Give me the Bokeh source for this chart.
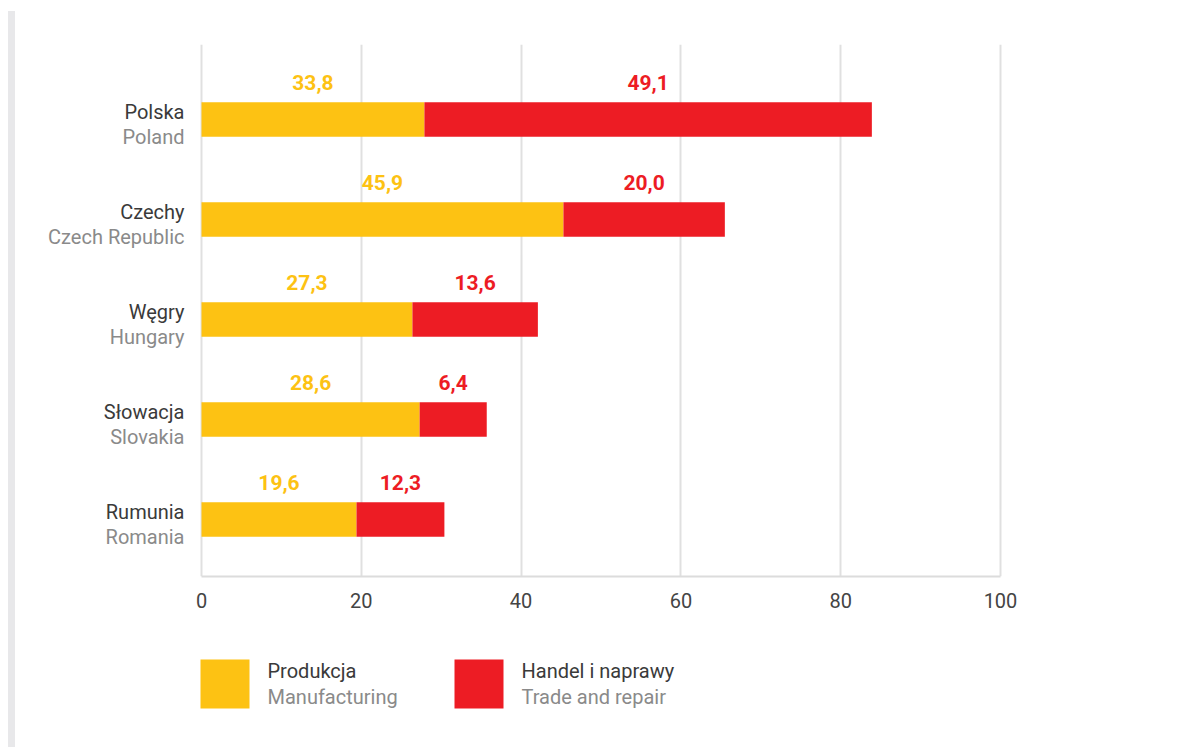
from bokeh.plotting import figure
from bokeh.models import Range1d, ColumnDataSource, FixedTicker, Div
from bokeh.layouts import row, column
from bokeh.core.properties import value
from bokeh.embed import file_html
from bokeh.resources import INLINE

# ---- data ----
countries_pl = ["Polska", "Czechy", "Węgry", "Słowacja", "Rumunia"]
countries_en = ["Poland", "Czech Republic", "Hungary", "Slovakia", "Romania"]
# bar lengths as drawn in the picture
manufacturing = [27.9, 45.3, 26.4, 27.3, 19.4]
trade = [56.0, 20.2, 15.7, 8.4, 11.0]
# printed value labels
manufacturing_labels = ["33,8", "45,9", "27,3", "28,6", "19,6"]
trade_labels = ["49,1", "20,0", "13,6", "6,4", "12,3"]
x_ticks = [0, 20, 40, 60, 80, 100]
series_pl = ["Produkcja", "Handel i naprawy"]
series_en = ["Manufacturing", "Trade and repair"]

YELLOW = "#FDC213"
RED = "#ED1C24"
DARK = "#3a3a3a"
GREY = "#8a8a8a"
FONT = "Roboto"
TXT = "20px"

# ---- layout constants (pixels) ----
FIG_W = 1150
RIGHT_BORDER = 50
FRAME_W = FIG_W - RIGHT_BORDER
ZERO_PX = 186            # where value 0 sits inside the frame
PX_PER_UNIT = 7.99
x_start = -ZERO_PX / PX_PER_UNIT
x_end = x_start + FRAME_W / PX_PER_UNIT

n = len(countries_pl)
ypos = [n - 1 - i for i in range(n)]
m_end = manufacturing
t_end = [a + b for a, b in zip(manufacturing, trade)]

src = ColumnDataSource(dict(
    y=ypos,
    m_left=[0] * n, m_right=m_end,
    t_left=m_end, t_right=t_end,
    m_mid=[v / 2 for v in m_end],
    t_mid=[(a + b) / 2 for a, b in zip(m_end, t_end)],
    m_lab=manufacturing_labels, t_lab=trade_labels,
    pl=countries_pl, en=countries_en,
    lab_x=[0] * n,
))

p = figure(width=FIG_W, height=629, output_backend="svg", toolbar_location=None,
           x_range=Range1d(x_start, x_end), y_range=Range1d(-0.57, 4.75),
           min_border_left=0, min_border_right=RIGHT_BORDER,
           min_border_top=44, min_border_bottom=53, frame_align=False)
p.outline_line_color = None
p.background_fill_color = "white"
p.border_fill_color = "white"

p.hbar(y="y", left="m_left", right="m_right", height=0.345, source=src,
       fill_color=YELLOW, line_color=None)
p.hbar(y="y", left="t_left", right="t_right", height=0.345, source=src,
       fill_color=RED, line_color=None)

p.text(x="m_mid", y="y", text="m_lab", source=src, y_offset=-37,
       text_align="center", text_baseline="middle", text_color=YELLOW,
       text_font=value(FONT), text_font_style="bold", text_font_size="21px")
p.text(x="t_mid", y="y", text="t_lab", source=src, y_offset=-37,
       text_align="center", text_baseline="middle", text_color=RED,
       text_font=value(FONT), text_font_style="bold", text_font_size="21px")

# category labels (two lines)
p.text(x="lab_x", y="y", text="pl", source=src, x_offset=-17, y_offset=-8,
       text_align="right", text_baseline="middle", text_color=DARK,
       text_font=value(FONT), text_font_size=TXT)
p.text(x="lab_x", y="y", text="en", source=src, x_offset=-17, y_offset=17,
       text_align="right", text_baseline="middle", text_color=GREY,
       text_font=value(FONT), text_font_size=TXT)

p.yaxis.visible = False
p.ygrid.visible = False
p.xgrid.ticker = FixedTicker(ticks=x_ticks)
p.xgrid.grid_line_color = "#e0e0e0"
p.xgrid.grid_line_width = 2
p.xaxis.ticker = FixedTicker(ticks=x_ticks)
p.xaxis.bounds = (x_ticks[0], x_ticks[-1])
p.xaxis.axis_line_color = "#dcdcdc"
p.xaxis.axis_line_width = 2
p.xaxis.major_tick_line_color = None
p.xaxis.minor_tick_line_color = None
p.xaxis.major_label_standoff = 10
p.xaxis.major_label_text_font = FONT
p.xaxis.major_label_text_font_size = TXT
p.xaxis.major_label_text_color = "#444444"

# ---- legend figure ----
LG_H = 100
lg = figure(width=FIG_W, height=LG_H, output_backend="svg", toolbar_location=None,
            x_range=Range1d(0, FIG_W), y_range=Range1d(LG_H, 0),
            min_border=0, frame_align=False)
lg.axis.visible = False
lg.grid.visible = False
lg.outline_line_color = None
sw_left = [ZERO_PX - 1, ZERO_PX + 253]
lsrc = ColumnDataSource(dict(
    left=sw_left, right=[v + 49 for v in sw_left], top=[30, 30], bottom=[79, 79],
    color=[YELLOW, RED], tx=[v + 67 for v in sw_left],
    ty1=[41, 41], ty2=[67, 67],
    pl=series_pl, en=series_en,
))
lg.quad(left="left", right="right", top="top", bottom="bottom", fill_color="color",
        line_color=None, source=lsrc)
lg.text(x="tx", y="ty1", text="pl", source=lsrc, text_align="left", text_baseline="middle",
        text_color=DARK, text_font=value(FONT), text_font_size=TXT)
lg.text(x="tx", y="ty2", text="en", source=lsrc, text_align="left", text_baseline="middle",
        text_color=GREY, text_font=value(FONT), text_font_size=TXT)

bar = Div(text="", width=7, height=736, margin=(11, 0, 0, 8),
          styles={"background-color": "#e8e8ea"})
layout = row(bar, column(p, lg))

open("out.html", "w").write(file_html(layout, INLINE))
